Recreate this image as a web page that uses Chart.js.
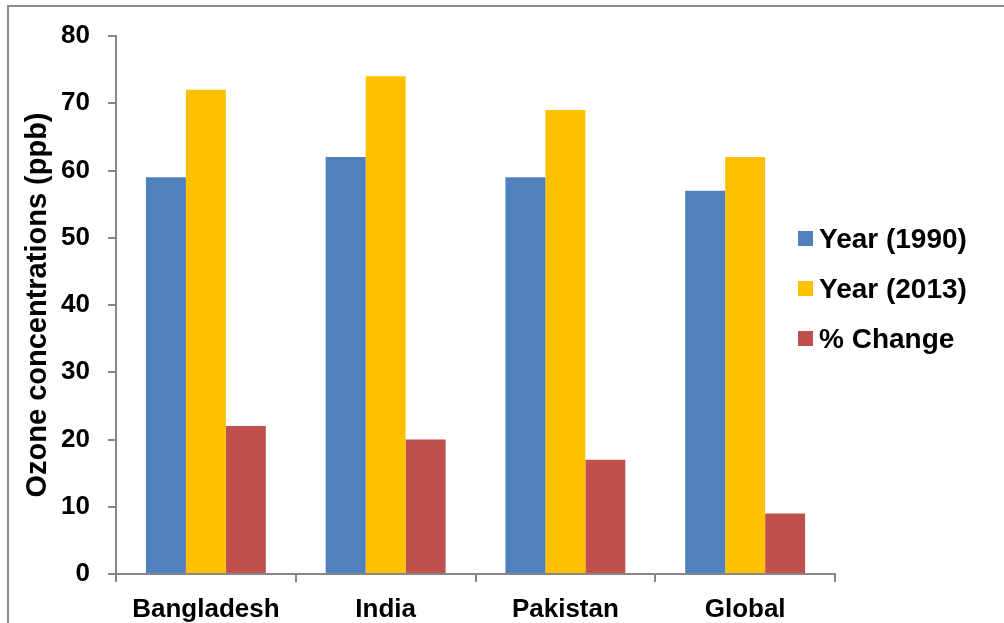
<!DOCTYPE html>
<html>
<head>
<meta charset="utf-8">
<script src="https://cdn.jsdelivr.net/npm/chart.js@4"></script>
<style>
  html, body { margin: 0; padding: 0; background: #fff; }
  #wrap { position: relative; width: 1004px; height: 623px; overflow: hidden; }
  #frame { position: absolute; left: 7px; top: 5px; right: -10px; bottom: -10px;
           border-left: 2px solid #8c8c8c; border-top: 2px solid #8c8c8c; }
  canvas { position: absolute; left: 0; top: 0; }
</style>
</head>
<body>
<div id="wrap">
  <div id="frame"></div>
  <canvas id="ozoneChart" width="1004" height="623"></canvas>
</div>
<script>
const regions = ['Bangladesh', 'India', 'Pakistan', 'Global'];
const year1990 = [59, 62, 59, 57];
const year2013 = [72, 74, 69, 62];
const pctChange = [22, 20, 17, 9];
const seriesNames = ['Year (1990)', 'Year (2013)', '% Change'];
const seriesColors = ['#4F81BD', '#FFC000', '#C0504D'];

const fontFamily = 'Liberation Sans, Arial, sans-serif';
const tickFont = { family: fontFamily, size: 26, weight: 'bold' };
const titleFont = { family: fontFamily, size: 29, weight: 'bold' };
const axisGray = '#868686';

// legend drawn by hand so it can sit over the right end of the x axis
const sideLegend = {
    id: 'sideLegend',
    afterDraw(chart) {
        const ctx = chart.ctx;
        ctx.save();
        ctx.font = 'bold 28px "Liberation Sans", Arial, sans-serif';
        ctx.textBaseline = 'middle';
        chart.data.datasets.forEach((ds, i) => {
            const y = 239 + i * 50;
            ctx.fillStyle = ds.backgroundColor;
            ctx.fillRect(798, y - 8, 15, 15);
            ctx.fillStyle = '#000';
            ctx.fillText(ds.label, 819, y + 1);
        });
        ctx.restore();
    }
};

const ctx = document.getElementById('ozoneChart').getContext('2d');
new Chart(ctx, {
    type: 'bar',
    data: {
        labels: regions,
        datasets: [
            { label: seriesNames[0], data: year1990, backgroundColor: seriesColors[0] },
            { label: seriesNames[1], data: year2013, backgroundColor: seriesColors[1] },
            { label: seriesNames[2], data: pctChange, backgroundColor: seriesColors[2] }
        ]
    },
    options: {
        responsive: false,
        animation: false,
        layout: { padding: { top: 36, right: 169, left: 0, bottom: 0 } },
        datasets: { bar: { categoryPercentage: 0.667, barPercentage: 1.0 } },
        plugins: {
            legend: { display: false },
            tooltip: { enabled: false }
        },
        scales: {
            x: {
                afterFit: (scale) => { scale.height = 49; },
                grid: {
                    offset: true,
                    drawOnChartArea: false,
                    drawTicks: true,
                    tickLength: 8,
                    color: axisGray,
                    lineWidth: 2
                },
                border: { color: axisGray, width: 2 },
                ticks: { color: '#000', font: tickFont, padding: 12, maxRotation: 0 }
            },
            y: {
                min: 0,
                max: 80,
                afterFit: (scale) => { scale.width = 116; },
                grid: {
                    drawOnChartArea: false,
                    drawTicks: true,
                    tickLength: 8,
                    color: axisGray,
                    lineWidth: 2
                },
                border: { color: axisGray, width: 2 },
                ticks: { stepSize: 10, color: '#000', font: tickFont, padding: 18 },
                title: {
                    display: true,
                    text: 'Ozone concentrations (ppb)',
                    color: '#000',
                    font: titleFont,
                    padding: { top: 21, bottom: 0 }
                }
            }
        }
    },
    plugins: [sideLegend]
});
</script>
</body>
</html>
